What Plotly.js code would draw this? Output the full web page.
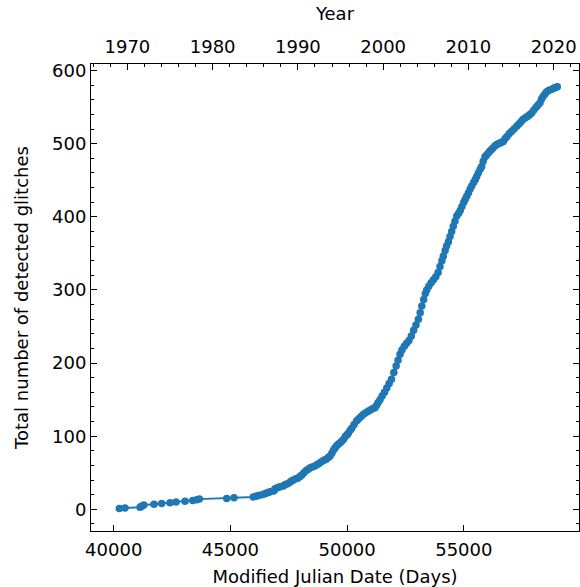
<!DOCTYPE html>
<html>
<head>
<meta charset="utf-8">
<script src="https://cdn.plot.ly/plotly-3.0.1.min.js"></script>
<style>html,body{margin:0;padding:0;background:#fff;}#chart{width:580px;height:587px;}</style>
</head>
<body>
<div id="chart"></div>
<script>
// Modified Julian Date of each (read) point on the cumulative glitch curve
const mjd = [
  40240, 40484, 41127, 41180, 41240, 41290, 41727, 42056, 42412, 42670,
  43055, 43385, 43556, 43667, 44842, 45154, 45981, 46100, 46196, 46341,
  46450, 46525, 46624, 46700, 46850, 46880, 46911, 46950, 47050, 47125,
  47267, 47350, 47450, 47550, 47626, 47700, 47800, 47900, 47982, 48060,
  48150, 48250, 48338, 48420, 48500, 48600, 48700, 48766, 48850, 48950,
  49050, 49120, 49195, 49270, 49350, 49420, 49481, 49550, 49620, 49700,
  49769, 49850, 49930, 50000, 50051, 50130, 50200, 50300, 50411, 50500,
  50600, 50700, 50800, 50900, 51000, 51100, 51195, 51260, 51330, 51409,
  51500, 51600, 51700, 51800, 51900, 52000, 52100, 52180, 52267, 52350,
  52450, 52550, 52650, 52750, 52850, 52950, 53051, 53130, 53200, 53280,
  53350, 53411, 53500, 53600, 53700, 53800, 53900, 53980, 54060, 54122,
  54200, 54260, 54340, 54409, 54480, 54550, 54620, 54696, 54780, 54850,
  54920, 55000, 55060, 55124, 55200, 55270, 55338, 55420, 55490, 55553,
  55620, 55700, 55767, 55830, 55908, 55960, 56040, 56122, 56190, 56250,
  56330, 56410, 56480, 56550, 56620, 56692, 56770, 56850, 56950, 57052,
  57150, 57266, 57360, 57450, 57530, 57622, 57700, 57760, 57830, 57909,
  58000, 58100, 58180, 58265, 58330, 58400, 58480, 58552, 58650, 58750,
  58850, 58930, 59006
];
// Total number of detected glitches at each point
const glitches = [
  1, 2, 3, 4, 5, 6, 7, 8, 9, 10,
  11, 12, 13, 14, 15, 16, 17, 18, 19, 20,
  21, 22, 23, 24, 25, 26, 28, 29, 30, 31,
  32, 34, 35, 37, 39, 40, 42, 43, 45, 47,
  50, 53, 55, 57, 58, 59, 61, 62, 64, 66,
  68, 69, 71, 73, 77, 81, 84, 87, 89, 91,
  93, 96, 100, 102, 104, 108, 111, 116, 121, 124,
  127, 130, 132, 134, 136, 138, 139, 142, 146, 150,
  155, 160, 166, 172, 178, 187, 196, 204, 212, 218,
  223, 227, 231, 237, 245, 252, 260, 269, 278, 287,
  295, 300, 305, 310, 314, 318, 324, 332, 340, 346,
  354, 360, 366, 373, 380, 387, 394, 401, 405, 409,
  414, 420, 424, 428, 433, 438, 442, 447, 451, 455,
  460, 465, 469, 476, 482, 484, 487, 490, 492, 494,
  497, 499, 500, 501, 502, 503, 507, 510, 514, 517,
  520, 524, 527, 530, 533, 535, 537, 538, 540, 542,
  546, 550, 553, 556, 561, 565, 568, 571, 573, 574,
  576, 577, 578
];
// Axis ranges (bottom: MJD, top: calendar year)
const mjdRange = [39027, 59935];
const yearRange = [1965.73, 2022.97];
const yRange = [-29.6, 609];
const mjdTicks = [40000, 45000, 50000, 55000];

const FONT = 'DejaVu Sans, Liberation Sans, sans-serif';
const blue = '#1f77b4';

const traces = [
  {
    x: mjd, y: glitches, type: 'scatter', mode: 'lines+markers',
    line: {color: blue, width: 2},
    marker: {color: blue, size: 7.5},
    xaxis: 'x', yaxis: 'y', showlegend: false, hoverinfo: 'x+y'
  },
  {
    x: yearRange, y: [null, null], type: 'scatter', mode: 'markers',
    xaxis: 'x2', yaxis: 'y', showlegend: false, hoverinfo: 'skip',
    marker: {opacity: 0}
  }
];

const tickFont = {family: FONT, size: 18, color: '#000'};
const layout = {
  width: 580, height: 587,
  margin: {l: 91, r: 1, t: 64, b: 56},
  paper_bgcolor: '#fff', plot_bgcolor: '#fff',
  font: {family: FONT, size: 18, color: '#000'},
  xaxis: {
    range: mjdRange, tickmode: 'array', tickvals: mjdTicks, tickformat: 'd',
    ticks: 'inside', ticklen: 6, tickwidth: 1, tickcolor: '#000',
    showline: true, linecolor: '#000', linewidth: 1,
    showgrid: false, zeroline: false, tickfont: tickFont,
    ticklabelstandoff: 2,
    title: {text: 'Modified Julian Date (Days)', font: tickFont, standoff: 12},
    anchor: 'y'
  },
  xaxis2: {
    range: yearRange, overlaying: 'x', side: 'top', anchor: 'y',
    tick0: 1970, dtick: 10, tickformat: 'd',
    ticks: 'inside', ticklen: 6, tickwidth: 1, tickcolor: '#000',
    minor: {dtick: 2, tick0: 1970, ticks: 'inside', ticklen: 3, tickwidth: 1, tickcolor: '#000', showgrid: false},
    showline: true, linecolor: '#000', linewidth: 1,
    showgrid: false, zeroline: false, tickfont: tickFont,
    ticklabelstandoff: 3,
    title: {text: 'Year', font: tickFont, standoff: 10}
  },
  yaxis: {
    range: yRange, tick0: 0, dtick: 100,
    ticks: 'inside', ticklen: 6, tickwidth: 1, tickcolor: '#000',
    minor: {dtick: 20, tick0: 0, ticks: 'inside', ticklen: 3, tickwidth: 1, tickcolor: '#000', showgrid: false},
    showline: true, linecolor: '#000', linewidth: 1, mirror: 'ticks',
    showgrid: false, zeroline: false, tickfont: tickFont,
    title: {text: 'Total number of detected glitches', font: tickFont, standoff: 18}
  }
};

Plotly.newPlot('chart', traces, layout, {displayModeBar: false, staticPlot: true});
</script>
</body>
</html>
